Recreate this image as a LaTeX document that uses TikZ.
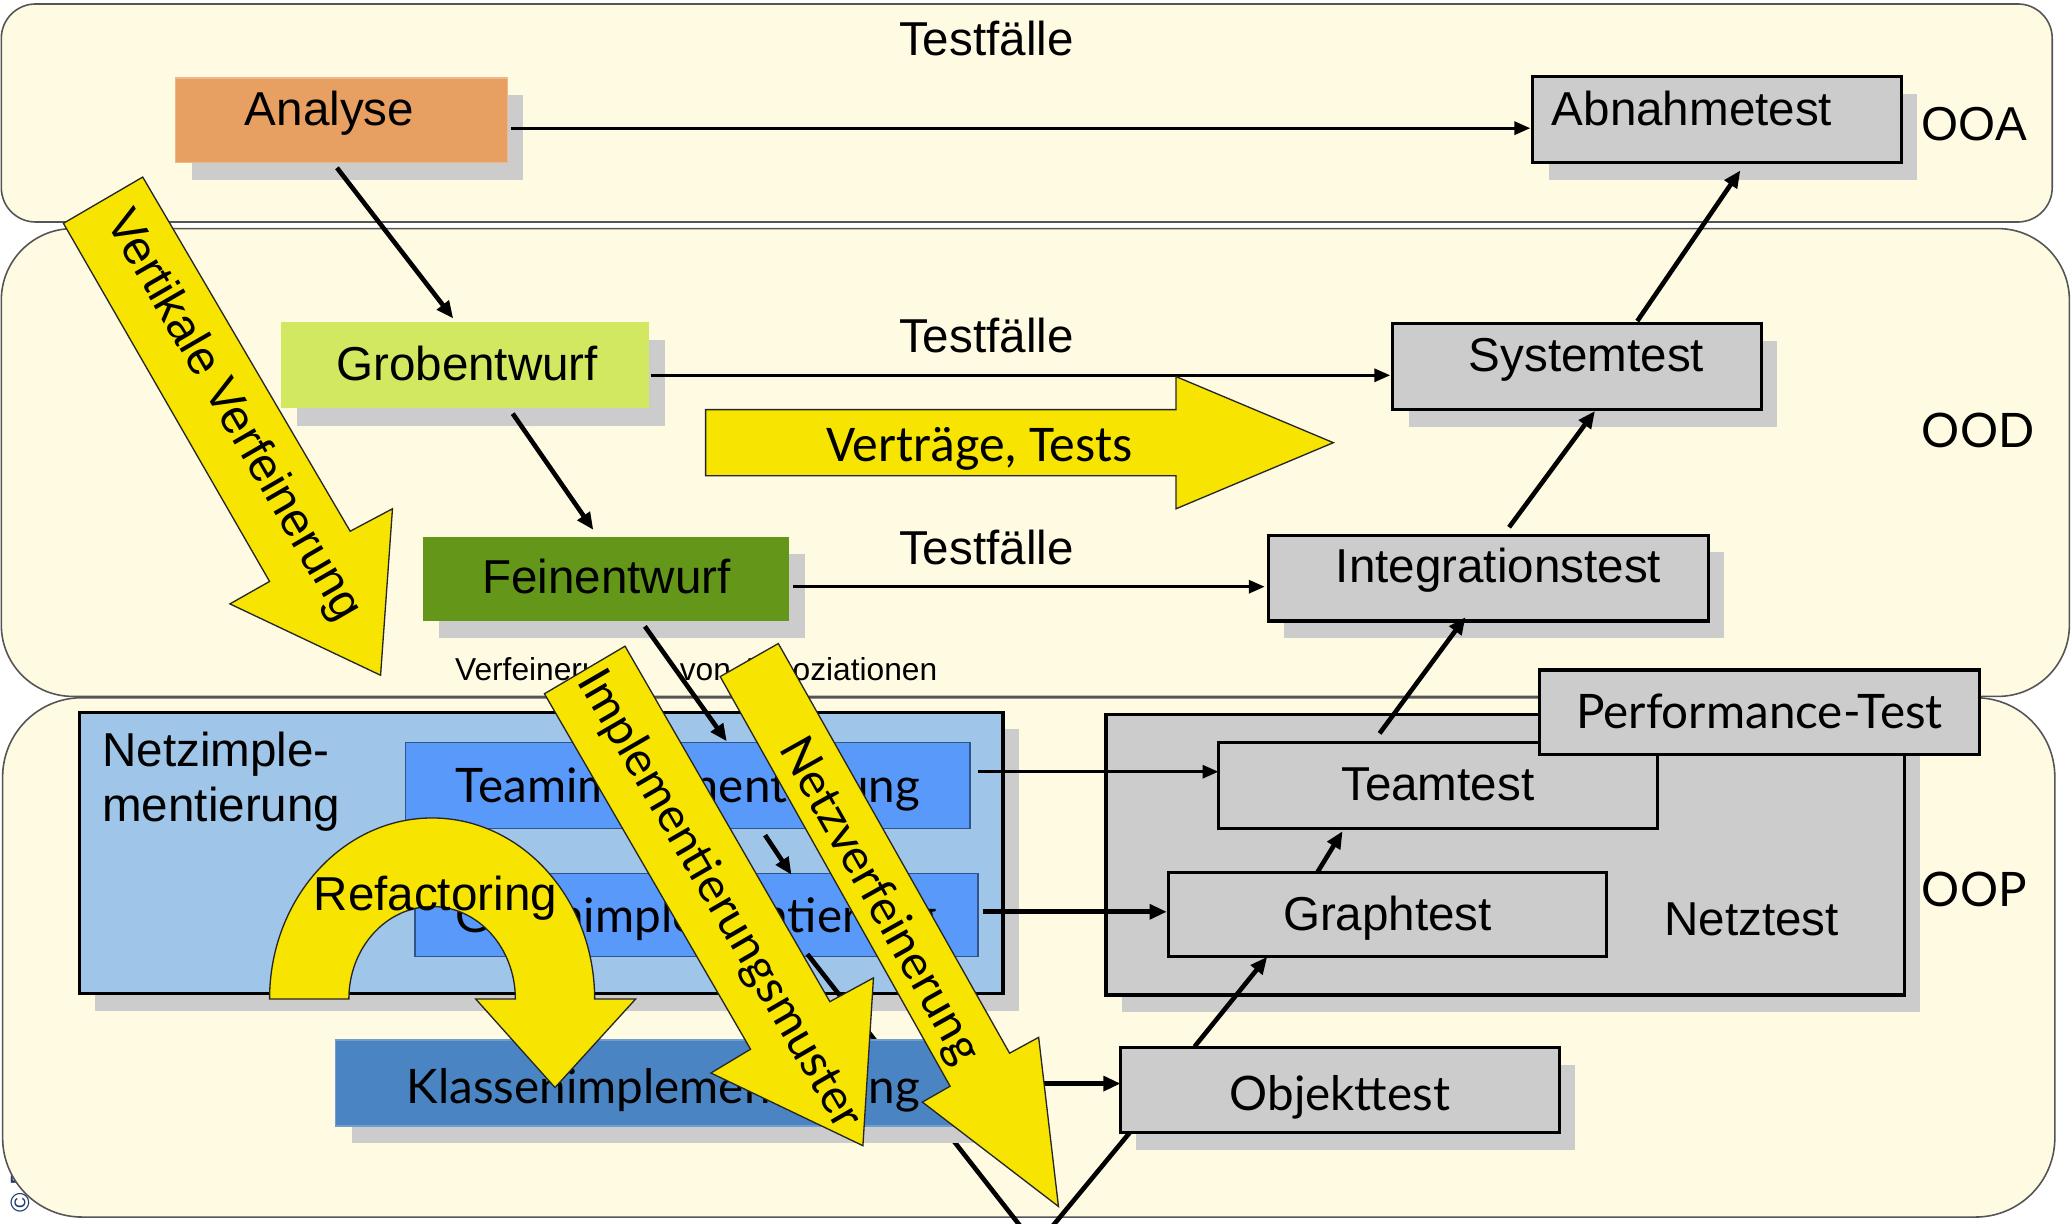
\documentclass[tikz,border=0pt]{standalone}
\usepackage{fontspec}
\setmainfont{Liberation Sans}
\newfontfamily\lato{Lato}
\newfontfamily\carl{Carlito}
\usetikzlibrary{arrows.meta,shadows,calc}
\definecolor{cream}{HTML}{FFFBE3}
\definecolor{bandline}{HTML}{555555}
\definecolor{orangeA}{HTML}{E8A062}
\definecolor{greenL}{HTML}{D2E860}
\definecolor{greenD}{HTML}{639619}
\definecolor{boxgray}{HTML}{CCCCCC}
\definecolor{yel}{HTML}{F7E400}
\definecolor{blueL}{HTML}{9FC6E8}
\definecolor{blueM}{HTML}{5899FA}
\definecolor{blueK}{HTML}{4A84C2}
\definecolor{cpblue}{HTML}{1F3A6E}
\begin{document}
\begin{tikzpicture}[x=0.5pt,y=-0.5pt,
 band/.style={draw=bandline, line width=0.6pt, fill=cream},
 shad/.style={drop shadow={shadow xshift=6pt, shadow yshift=-6.5pt, fill=boxgray, opacity=1}},
 bx/.style={rectangle, inner sep=0pt, outer sep=0pt},
 testbox/.style={bx, draw=black, line width=1.2pt, fill=boxgray},
 lbl/.style={inner sep=0pt, font=\fontsize{18}{21}\selectfont},
 lblL/.style={inner sep=0pt, font=\lato\fontsize{18}{21}\selectfont},
 conthin/.style={line width=1pt, -{Triangle[length=6pt,width=5pt]}},
 conthick/.style={line width=1.75pt, -{Triangle[length=6.5pt,width=5.5pt]}},
 vline/.style={line width=1.75pt},
 yarrow/.style={fill=yel, draw=black!85, line width=0.5pt, line join=miter},
]
\useasboundingbox (0,0) rectangle (1568,926);
\clip (0,0) rectangle (1568,926);
\fill[white] (0,0) rectangle (1568,926);

% copyright tag (mostly hidden)
\node[rotate=90, anchor=base west, inner sep=0pt, text=cpblue, font=\fontsize{10}{12}\selectfont] (copy) at (22,918) {© D};

% bands
\draw[band, rounded corners=13pt] (1,3) rectangle (1553,168);
\draw[band, rounded corners=27pt] (1,173) rectangle (1566,527);
\draw[band, rounded corners=30pt] (2,528) rectangle (1555,921);

% labels
\node[lbl, anchor=base west] (tf1) at (680,42) {Testfälle};
\node[lbl, anchor=base west] (tf2) at (680,267) {Testfälle};
\node[lbl, anchor=base west] (tf3) at (680,427) {Testfälle};
\node[lbl, anchor=base west] (ooa) at (1454,106) {OOA};
\node[lblL, anchor=base west] (ood) at (1454,339) {OOD};
\node[lblL, anchor=base west] (oop) at (1454,686) {OOP};

% upper boxes
\node[bx, shad, fill=orangeA, draw=orangeA!75!white, line width=0.5pt, minimum width=125.5pt, minimum height=32pt] (an) at (258.5,91) {};
\node[lbl, anchor=base west] (anT) at (185,95) {Analyse};
\node[testbox, shad, minimum width=139.5pt, minimum height=32.5pt] (ab) at (1299.5,90.5) {};
\node[lbl, anchor=base west] (abT) at (1174,95) {Abnahmetest};
\node[bx, shad, fill=greenL, minimum width=139pt, minimum height=32.5pt] (gr) at (352,276.5) {};
\node[lbl, anchor=base] (grT) at (353.5,288) {Grobentwurf};
\node[testbox, shad, minimum width=139.5pt, minimum height=32.5pt] (st) at (1193.5,277.5) {};
\node[lbl, anchor=base] (stT) at (1200.5,281) {Systemtest};
\node[bx, shad, fill=greenD, minimum width=138.5pt, minimum height=32pt] (fe) at (458.5,438) {};
\node[lbl, anchor=base] (feT) at (459,449) {Feinentwurf};
\node[testbox, shad, minimum width=166.5pt, minimum height=32.5pt] (it) at (1126.5,437.5) {};
\node[lbl, anchor=base] (itT) at (1134,441) {Integrationstest};

% upper connectors
\draw[conthin] ($(an.east)+(3,6)$) -- ($(ab.west)+(-2,6.5)$);
\draw[conthick] ($(an.south)+(-3.5,4)$) -- ($(gr.north)+(-9,-3)$);
\draw[conthin] ($(gr.east)+(2,7.5)$) -- ($(st.west)+(-2,6.5)$);
\draw[conthick] ($(st.north)+(45.5,-2)$) -- ($(ab.south)+(17.5,6)$);
\draw[conthick] ($(gr.south)+(36,4)$) -- ($(fe.north)+(-9.5,-5)$);
\draw[conthin] ($(fe.east)+(3,6)$) -- ($(it.west)+(-3,6.5)$);
\draw[conthick] ($(it.north)+(15.5,-6)$) -- ($(st.south)+(13.5,1)$);

% Vertraege, Tests
\draw[yarrow] (534,310) -- (890,310) -- (890,285) -- (1009,335) -- (890,385) -- (890,360) -- (534,360) -- cycle;
\node[inner sep=0pt, anchor=base, font=\carl\fontsize{19.5}{22}\selectfont] (vtT) at (741,349) {Verträge, Tests};

% Vertikale Verfeinerung
\draw[yarrow] (48,169) -- (108,134) -- (265,402) -- (297,385) -- (288,511) -- (174,457) -- (204,440) -- cycle;
\node[lbl, rotate=-59.9] (vvT) at (176,315) {Vertikale Verfeinerung};

\node[inner sep=0pt, anchor=base west, font=\fontsize{12}{14}\selectfont] (vva) at (344,515) {Verfeinerung\hspace{17pt}von Assoziationen};

% Netzimplementierung
\node[bx, shad, fill=blueL, draw=black, line width=1.2pt, minimum width=349.5pt, minimum height=106.5pt] (ni) at (409.5,645.5) {};
\node[lbl, anchor=base west] (niT1) at (77,580) {Netzimple-};
\node[lbl, anchor=base west] (niT2) at (77,622) {mentierung};
\node[bx, fill=blueM, draw=blueM!55!black, line width=0.5pt, minimum width=213.5pt, minimum height=32.5pt] (ti) at (520.5,594.5) {};
\node[lblL, anchor=base] (tiT) at (520.5,607) {Teamimplementierung};
\node[bx, fill=blueM, draw=blueM!55!black, line width=0.5pt, minimum width=213pt, minimum height=31.5pt] (gi) at (527,692.5) {};
\node[lblL, anchor=base] (giT) at (527,706) {Graphimplementierung};

\draw[conthick] ($(fe.south)+(29.5,4)$) -- ($(ti.north)+(29.5,-1)$);
\draw[conthick] ($(ti.south)+(58.5,5)$) -- ($(gi.north)+(72,1)$);

% Netztest group
\node[testbox, shad, minimum width=302pt, minimum height=106pt] (nt) at (1139,647) {};
\node[lbl, anchor=base west] (ntT) at (1259,708) {Netztest};
\node[testbox, minimum width=166pt, minimum height=32.5pt] (tt) at (1088,594.5) {};
\node[lbl, anchor=base] (ttT) at (1088,606) {Teamtest};
\node[testbox, minimum width=166pt, minimum height=32pt] (gt) at (1050,692) {};
\node[lbl, anchor=base] (gtT) at (1050,704) {Graphtest};
\node[testbox, minimum width=166.5pt, minimum height=32pt] (pt) at (1331.5,539) {};
\node[lblL, anchor=base] (ptT) at (1331.5,551) {Performance-Test};

\draw[conthin] ($(ti.east)+(6,-10.5)$) -- ($(tt.west)+(0,-10.5)$);
\draw[conthick] ($(gi.east)+(4,-2.5)$) -- ($(gt.west)+(-1,-2)$);
\draw[conthick] ($(gt.north)+(-53,0)$) -- ($(tt.south)+(-72,2)$);
\draw[conthick] ($(tt.north)+(-44,-7)$) -- ($(it.south)+(-17.5,-3)$);

% Objekttest and V line
\node[testbox, shad, minimum width=166pt, minimum height=32pt] (ot) at (1014,825) {};
\node[lblL, anchor=base] (otT) at (1014,840) {Objekttest};
\coordinate (vs) at (611,722);
\coordinate (vb) at (784,943);
\draw[vline] (vs) -- (vb) -- ($(ot.south west)+(7,0)$);

% Klassenimplementierung
\node[bx, shad, fill=blueK, draw=blueK!80!white, line width=0.5pt, minimum width=248pt, minimum height=32.5pt] (ki) at (502,819.5) {};
\node[lblL, anchor=base] (kiT) at (502,835) {Klassenimplementierung};
\draw[conthick] ($(ki.east)+(2,0.5)$) -- ($(ot.west)+(0,-5)$);
\draw[conthick] ($(ot.north)+(-110,-1)$) -- ($(gt.south)+(-91,0)$);

% Refactoring
\draw[yarrow] (204,756) arc[start angle=180, end angle=360, x radius=123, y radius=137] -- (481,756) -- (420,823) -- (360,756) -- (390,756) arc[start angle=0, end angle=-180, x radius=63, y radius=70] -- cycle;
\node[lbl, anchor=base west] (rfT) at (237,689) {Refactoring};

% Implementierungsmuster
\draw[yarrow] (412,525) -- (473,489) -- (628,758) -- (661,740) -- (653,867) -- (538,812) -- (568,794) -- cycle;
\node[lblL, rotate=-59.9] (imT) at (544,681) {Implementierungsmuster};

% Netzverfeinerung
\draw[yarrow] (545,512) -- (589,487) -- (764,797) -- (786,785) -- (801,913) -- (698,834) -- (719,822) -- cycle;
\node[lblL, rotate=-60.7] (nvT) at (665,682) {Netzverfeinerung};
\end{tikzpicture}
\end{document}
